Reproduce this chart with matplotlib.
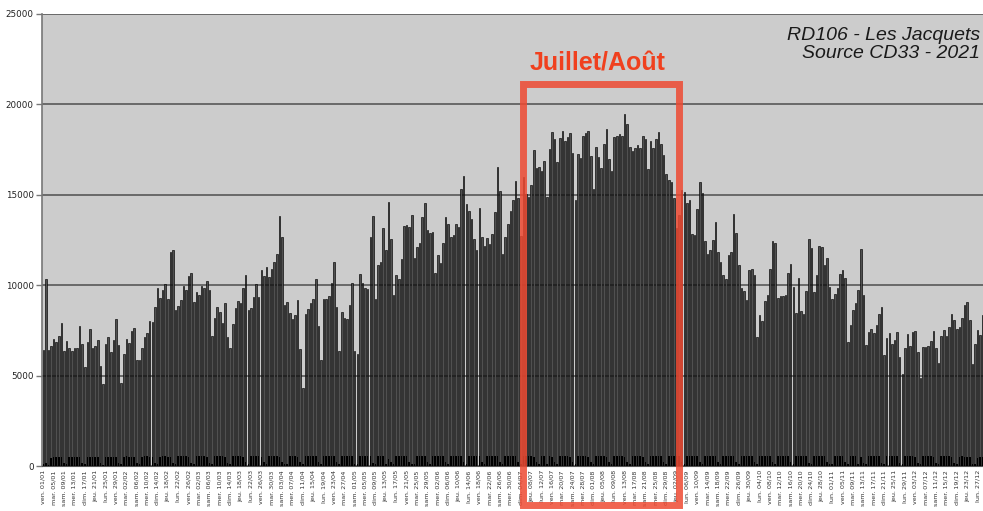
import matplotlib.pyplot as plt
import pandas as pd
from matplotlib.patches import Rectangle

# comptage journalier 2021, tous véhicules
total = [
    6400, 10370, 6400, 6640, 7030, 6850, 7210, 7930, 6350, 6940,
    6550, 6370, 6550, 6550, 7750, 6750, 5480, 6850, 7600, 6510,
    6610, 6990, 5550, 4560, 6770, 7140, 6290, 6970, 8150, 6700,
    4610, 6220, 7030, 6810, 7440, 7620, 5870, 5870, 6500, 7140,
    7380, 8040, 7970, 8800, 9850, 9300, 9740, 10090, 9230, 11830,
    11940, 8620, 8840, 9170, 9980, 9720, 10520, 10650, 9060, 9650,
    9480, 9980, 9850, 10220, 9720, 7210, 8190, 8820, 8540, 7900,
    9020, 7140, 6550, 7860, 8760, 9100, 8990, 9850, 10550, 8650,
    8750, 9320, 10060, 9320, 10830, 10520, 11000, 10440, 10890, 11270,
    11700, 13840, 12640, 8880, 9080, 8470, 8140, 8340, 9170, 6460,
    4340, 8410, 8690, 9020, 9240, 10370, 7730, 5890, 9240, 9260,
    9430, 10130, 11270, 8820, 6350, 8510, 8210, 8140, 8910, 10110,
    6380, 6220, 10610, 10130, 9870, 9780, 12640, 13820, 9260, 11090,
    11290, 13140, 11940, 14610, 12530, 9480, 10570, 10370, 11460, 13280,
    13340, 13230, 13860, 11510, 12120, 12330, 13750, 14520, 13040, 12860,
    12950, 10660, 11660, 11220, 12340, 13750, 13410, 12680, 12750, 13380,
    13230, 15310, 16030, 14470, 14130, 13650, 12570, 11960, 14280, 12640,
    12160, 12600, 12270, 12810, 14040, 16550, 15190, 11700, 12690, 13410,
    14100, 14710, 15760, 14800, 12730, 16000, 15070, 14890, 15540, 17470,
    16490, 16550, 16330, 16860, 14890, 17530, 18490, 18060, 16830, 18160,
    18520, 17950, 18210, 18430, 17290, 14740, 17250, 17050, 18250, 18430,
    18540, 17140, 15300, 17660, 17100, 16490, 17800, 18640, 16960, 16330,
    18210, 18250, 18380, 18250, 19470, 18890, 17640, 17440, 17600, 17730,
    17600, 18230, 18100, 16440, 17950, 17600, 18060, 18490, 17790, 17200,
    16160, 15810, 15720, 14800, 13170, 13860, 15260, 15150, 14560, 14710,
    12820, 12770, 14230, 15700, 15090, 12440, 11700, 11940, 12490, 13510,
    11850, 11270, 10570, 10370, 11660, 11850, 13950, 12900, 11130, 9870,
    9670, 9190, 10830, 10920, 10550, 7160, 8360, 8030, 9120, 9480,
    10920, 12450, 12340, 9300, 9390, 9390, 9450, 10650, 11200, 9910,
    8490, 10410, 8560, 8400, 9670, 12530, 12030, 9650, 10550, 12160,
    12100, 11110, 11480, 9910, 9260, 9540, 9870, 10610, 10830, 10420,
    6860, 7790, 8620, 9020, 9760, 11990, 9480, 6680, 7420, 7580,
    7330, 7820, 8380, 8780, 6140, 7070, 7340, 6770, 6960, 7420,
    6030, 5090, 6530, 7290, 6640, 7420, 7490, 6290, 4850, 6590,
    6590, 6660, 6940, 7450, 6550, 5680, 7210, 7510, 7200, 7690,
    8430, 8060, 7550, 7690, 8190, 8930, 9060, 8060, 5630, 6730,
    7510, 7270, 8340,
]

# poids lourds, une semaine par ligne (ven. -> jeu.)
heavy = [
    100, 150, 80, 470, 500, 500, 490,
    480, 170, 90, 500, 520, 510, 500,
    490, 160, 90, 510, 520, 520, 500,
    480, 170, 80, 500, 510, 520, 510,
    490, 170, 90, 510, 530, 520, 510,
    500, 180, 90, 520, 530, 530, 520,
    500, 180, 90, 520, 540, 530, 520,
    510, 180, 100, 530, 540, 540, 530,
    500, 190, 100, 530, 550, 540, 530,
    510, 190, 100, 540, 550, 550, 540,
    520, 190, 100, 540, 560, 550, 540,
    520, 200, 100, 550, 560, 560, 540,
    520, 200, 100, 550, 560, 550, 550,
    520, 200, 100, 100, 540, 560, 550,
    520, 200, 100, 550, 560, 560, 550,
    530, 200, 100, 560, 570, 560, 550,
    530, 200, 100, 560, 570, 560, 550,
    530, 120, 100, 560, 570, 560, 550,
    530, 180, 100, 560, 570, 560, 120,
    400, 200, 100, 560, 570, 560, 550,
    530, 200, 100, 120, 560, 560, 550,
    530, 200, 100, 560, 570, 560, 550,
    530, 210, 110, 560, 570, 570, 550,
    530, 210, 110, 570, 570, 560, 560,
    540, 210, 110, 560, 580, 570, 550,
    530, 220, 110, 560, 570, 570, 560,
    530, 220, 110, 560, 570, 560, 550,
    520, 220, 110, 560, 570, 120, 540,
    520, 230, 120, 550, 560, 560, 550,
    520, 230, 120, 550, 560, 550, 540,
    510, 230, 120, 540, 550, 550, 540,
    510, 230, 120, 540, 550, 550, 540,
    510, 230, 100, 540, 550, 550, 540,
    520, 220, 110, 550, 560, 560, 550,
    530, 210, 110, 560, 570, 570, 560,
    540, 210, 110, 570, 580, 570, 560,
    540, 200, 100, 570, 580, 580, 560,
    540, 200, 100, 570, 580, 570, 560,
    540, 200, 100, 560, 580, 570, 560,
    530, 200, 100, 560, 570, 570, 560,
    530, 200, 100, 560, 570, 560, 550,
    530, 200, 100, 560, 570, 560, 550,
    530, 190, 100, 550, 570, 560, 550,
    530, 200, 100, 110, 560, 560, 550,
    530, 200, 100, 560, 570, 560, 110,
    480, 190, 100, 550, 560, 560, 550,
    530, 190, 100, 550, 560, 560, 550,
    530, 190, 100, 550, 560, 550, 540,
    520, 190, 100, 540, 550, 550, 540,
    520, 180, 100, 540, 550, 540, 530,
    510, 170, 90, 520, 530, 520, 500,
    480, 100, 90, 470, 480, 480,
]

days = pd.date_range("2021-01-01", periods=len(total), freq="D")
day_names = ["lun.", "mar.", "mer.", "jeu.", "ven.", "sam.", "dim."]
tick_labels = [f"{day_names[d.weekday()]} {d:%d/%m}" for d in days]
y_ticks = [0, 5000, 10000, 15000, 20000, 25000]

W, H = 983, 511
fig = plt.figure(figsize=(W / 100, H / 100), dpi=100)
fig.patch.set_facecolor("white")
ax = fig.add_axes([42 / W, 1 - 466 / H, 1 - 42 / W, (466 - 14) / H])
ax.set_facecolor("#cccccc")

x = list(range(len(total)))
ax.bar(x, total, width=0.6, color="#505050", edgecolor="black", linewidth=0.45, zorder=2)
ax.bar(x, heavy, width=0.6, color="black", linewidth=0, zorder=3)

ax.set_ylim(0, 25000)
ax.set_xlim(-0.5, 362.1)
ax.set_yticks(y_ticks)
ax.set_yticklabels([str(v) for v in y_ticks], fontsize=6.3, color="#222222")
ax.yaxis.grid(True, color="#585858", linewidth=1.2, zorder=1)
ax.set_axisbelow(True)
ax.tick_params(axis="y", length=4, width=1, color="#777777", pad=2)

ax.set_xticks(x[::4])
ax.set_xticklabels(tick_labels[::4], rotation=90, fontsize=4.6, color="#333333")
ax.tick_params(axis="x", length=0, pad=3)

for side in ["top", "right"]:
    ax.spines[side].set_visible(False)
ax.spines["left"].set_color("#777777")
ax.spines["left"].set_linewidth(1.2)
ax.spines["bottom"].set_color("#555555")

ax.text(0.997, 0.932, "RD106 - Les Jacquets\nSource CD33 - 2021", transform=ax.transAxes,
        ha="right", va="center", fontsize=14, style="italic", family="Liberation Sans",
        color="#1a1a1a", linespacing=1.05)

# encadré de l'été
box = Rectangle((523 / W, 1 - 505 / H), (679 - 523) / W, (505 - 84.5) / H,
                transform=fig.transFigure, fill=False, edgecolor="#ee4a32",
                linewidth=5, alpha=0.85, zorder=10)
fig.add_artist(box)
fig.text(598 / W, 1 - 63 / H, "Juillet/Août", ha="center", va="center", fontsize=18,
         fontweight="bold", family="Liberation Sans", color="#f0401e")

fig.savefig("out.png", dpi=100)
